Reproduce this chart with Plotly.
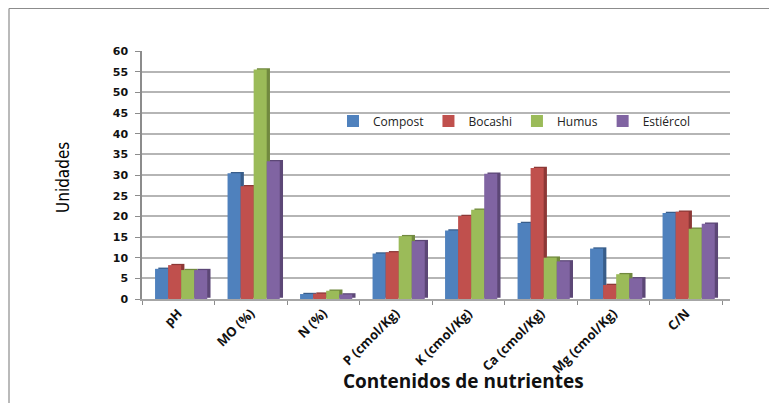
import plotly.graph_objects as go

# Nutrient content by type of organic fertiliser
categories = ["pH", "MO (%)", "N (%)", "P (cmol/Kg)", "K (cmol/Kg)",
              "Ca (cmol/Kg)", "Mg (cmol/Kg)", "C/N"]
compost = [7.3, 30.4, 1.2, 11.0, 16.6, 18.4, 12.2, 20.8]
bocashi = [8.2, 27.3, 1.3, 11.3, 20.1, 31.7, 3.4, 21.1]
humus = [7.0, 55.5, 2.0, 15.2, 21.6, 10.0, 6.0, 17.0]
estiercol = [7.0, 33.3, 1.1, 14.0, 30.3, 9.1, 5.0, 18.2]
y_ticks = list(range(0, 61, 5))

series = [
    ("Compost", compost, "#4F81BD", "#385D8A"),
    ("Bocashi", bocashi, "#C0504D", "#8C3836"),
    ("Humus", humus, "#9BBB59", "#71893F"),
    ("Estiércol", estiercol, "#8064A2", "#5C4776"),
]

W, H = 769, 403
L, R, T, B = 142, 39, 51, 104          # plot area margins (px)
plot_w = W - L - R
plot_h = H - T - B

bar_w = 0.18                            # bar width in category units
first_off = -0.32                       # left edge of the first bar in a group
depth = 0.045                           # horizontal depth of the bar side face
lift = 0.3                              # vertical depth of the bar top face

fig = go.Figure()

# darker side faces behind the bars give a bevelled look
for i, (name, vals, col, dark) in enumerate(series):
    fig.add_trace(go.Bar(
        x=categories, y=vals, base=lift, name=name, showlegend=False,
        marker=dict(color=dark, line=dict(width=0)),
        width=bar_w, offset=first_off + i * bar_w + depth, hoverinfo="skip",
    ))

for i, (name, vals, col, dark) in enumerate(series):
    fig.add_trace(go.Bar(
        x=categories, y=vals, name=name,
        marker=dict(color=col, line=dict(width=0)),
        width=bar_w, offset=first_off + i * bar_w,
    ))

# chart frame (left and top edges)
px = lambda v: (v - L) / plot_w
py = lambda v: (H - B - v) / plot_h
frame = dict(color="#8c8c8c", width=1.2)
fig.add_shape(type="line", xref="paper", yref="paper",
              x0=px(9), x1=px(769), y0=py(8.5), y1=py(8.5), line=frame)
fig.add_shape(type="line", xref="paper", yref="paper",
              x0=px(9), x1=px(9), y0=py(8.5), y1=py(403), line=frame)

fig.add_annotation(text="Unidades", textangle=-90, showarrow=False,
                   xref="paper", yref="paper", x=px(63), y=py(178),
                   xanchor="center", yanchor="middle",
                   font=dict(family="DejaVu Sans Condensed, sans-serif",
                             size=17, color="#000000"))
fig.add_annotation(text="<b>Contenidos de nutrientes</b>", showarrow=False,
                   xref="paper", yref="paper", x=px(463), y=py(381),
                   xanchor="center", yanchor="middle",
                   font=dict(family="Open Sans", size=19, color="#111111"))

fig.update_layout(
    width=W, height=H,
    margin=dict(l=L, r=R, t=T, b=B, pad=0),
    paper_bgcolor="white", plot_bgcolor="white",
    barmode="overlay",
    showlegend=True,
    legend=dict(orientation="h", x=px(333), y=py(121), xanchor="left",
                yanchor="middle", bgcolor="rgba(0,0,0,0)",
                font=dict(family="Open Sans", size=12, color="#222222"),
                itemwidth=30, traceorder="normal"),
    xaxis=dict(
        type="category", range=[-0.5, 7.61],
        tickangle=-45, tickson="boundaries", ticks="outside", ticklen=4,
        tickcolor="#8c8c8c", showline=True, linecolor="#a6a6a6", linewidth=1.5,
        showgrid=False,
        tickfont=dict(family="Open Sans", size=13, color="#111111", weight="bold"),
    ),
    yaxis=dict(
        range=[0, 60], tickvals=y_ticks, ticks="outside", ticklen=5,
        tickcolor="#8c8c8c", showline=True, linecolor="#8c8c8c", linewidth=1.5,
        showgrid=True, gridcolor="#b5b5b5", gridwidth=1.5, zeroline=False,
        tickfont=dict(family="DejaVu Sans", size=11, color="#111111", weight="bold"),
        ticklabelstandoff=5,
    ),
)

fig.write_html("out.html")
